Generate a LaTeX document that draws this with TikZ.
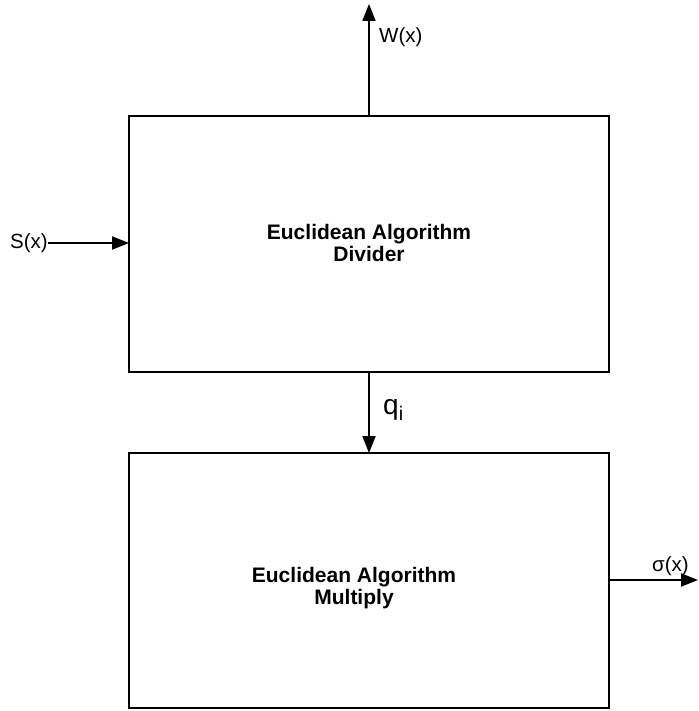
\documentclass[tikz,border=0pt]{standalone}
\usepackage{fontspec}
\setmainfont{Liberation Sans}
\usetikzlibrary{arrows.meta}
\begin{document}
\begin{tikzpicture}[x=1pt,y=-1pt,
  blk/.style={draw,line width=2pt},
  conn/.style={line width=2pt,-{Triangle[length=17pt,width=13pt]}},
  lbl/.style={font=\fontsize{20.5}{22}\selectfont,inner sep=0pt},
  title/.style={font=\fontsize{21}{22}\selectfont\bfseries,align=center,inner sep=0pt}]
\useasboundingbox (0,0) rectangle (698,711);
\draw[blk] (129,116) rectangle (609,372);
\draw[blk] (129,453) rectangle (609,708);
\coordinate (dtop) at (369,116);
\coordinate (dbot) at (369,372);
\coordinate (dleft) at (129,243);
\coordinate (mtop) at (369,453);
\coordinate (mright) at (609,580);
\coordinate (wend) at (369,4);
\coordinate (send) at (698,580);
\node[title] (div) at (369,243) {Euclidean Algorithm\\Divider};
\node[title] (mul) at (354,588) {Euclidean Algorithm\\Multiply};
\node[lbl,anchor=east] (s) at (48,243) {S(x)};
\node[lbl,anchor=west] (w) at (379,37) {W(x)};
\node[font=\fontsize{28}{30}\selectfont,inner sep=0pt,anchor=west] (q) at (383,410) {q\textsubscript{i}};
\node[lbl,anchor=west] (sig) at (652,566) {σ(x)};
\draw[conn] (dtop) -- (wend);
\draw[conn] (s.east) -- (dleft);
\draw[conn] (dbot) -- (mtop);
\draw[conn] (mright) -- (send);
\end{tikzpicture}
\end{document}
